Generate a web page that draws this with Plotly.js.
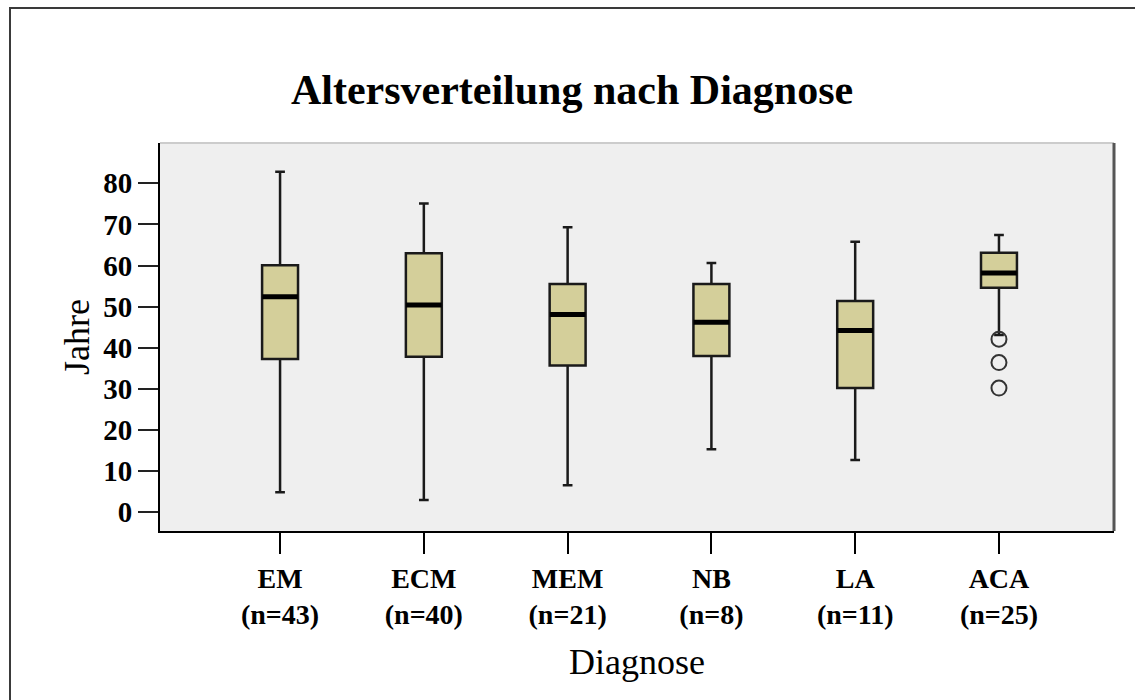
<!DOCTYPE html>
<html>
<head>
<meta charset="utf-8">
<script src="https://cdn.plot.ly/plotly-3.0.1.min.js"></script>
<style>
  html, body { margin: 0; padding: 0; background: #fff; }
  #wrap { position: relative; width: 1135px; height: 700px; overflow: hidden; }
  #chart { position: absolute; left: 0; top: 0; width: 1135px; height: 700px; }
  #frame { position: absolute; left: 9px; top: 7px; width: 1200px; height: 800px;
           border: 2px solid #3a3a3a; pointer-events: none; box-sizing: border-box; }
</style>
</head>
<body>
<div id="wrap">
  <div id="chart"></div>
  <div id="frame"></div>
</div>
<script>
// ---- data ----
const categories  = ['EM', 'ECM', 'MEM', 'NB', 'LA', 'ACA'];
const sampleSizes = [43, 40, 21, 8, 11, 25];
const lowerFence  = [4.9, 3.0, 6.6, 15.3, 12.7, 43.1];
const q1Values    = [37.3, 37.8, 35.7, 38.0, 30.2, 54.6];
const medianVals  = [52.4, 50.4, 48.1, 46.2, 44.2, 58.2];
const q3Values    = [60.1, 63.0, 55.5, 55.5, 51.4, 63.1];
const upperFence  = [82.8, 75.1, 69.3, 60.6, 65.8, 67.4];
const outlierCats = ['ACA', 'ACA', 'ACA'];
const outlierVals = [42.1, 36.4, 30.2];
const yTickVals   = [0, 10, 20, 30, 40, 50, 60, 70, 80];

const tickText = categories.map((c, i) => c + '<br>(n=' + sampleSizes[i] + ')');

const serif = 'Liberation Serif, Times New Roman, serif';

const traces = [
  {
    type: 'box',
    x: categories,
    q1: q1Values,
    median: medianVals,
    q3: q3Values,
    lowerfence: lowerFence,
    upperfence: upperFence,
    boxpoints: false,
    fillcolor: '#d4cf9a',
    line: { color: '#1a1a1a', width: 2.5 },
    whiskerwidth: 0.27,
    hoverinfo: 'skip',
    showlegend: false
  },
  {
    type: 'scatter',
    mode: 'markers',
    x: categories,
    y: medianVals,
    marker: { symbol: 'line-ew', size: 25.5, line: { color: '#000000', width: 5 } },
    hoverinfo: 'skip',
    showlegend: false
  },
  {
    type: 'scatter',
    mode: 'markers',
    x: outlierCats,
    y: outlierVals,
    marker: { symbol: 'circle-open', size: 15, color: '#333333', line: { color: '#333333', width: 2 } },
    hoverinfo: 'skip',
    showlegend: false
  }
];

const layout = {
  width: 1135,
  height: 700,
  margin: { l: 160, r: 21, t: 143, b: 169 },
  paper_bgcolor: 'rgba(0,0,0,0)',
  plot_bgcolor: '#efefef',
  boxmode: 'overlay',
  boxgap: 0.75,
  boxgroupgap: 0,
  showlegend: false,
  title: {
    text: 'Altersverteilung nach Diagnose',
    font: { family: serif, size: 42, color: '#000', weight: 'bold' },
    xref: 'container', x: 0.504, xanchor: 'center',
    yref: 'container', y: 0.872, yanchor: 'middle'
  },
  xaxis: {
    type: 'category',
    range: [-0.835, 5.8],
    tickmode: 'array',
    tickvals: categories,
    ticktext: tickText,
    ticks: 'outside',
    ticklen: 21,
    tickwidth: 2,
    tickcolor: '#000',
    showline: true,
    linecolor: '#000',
    linewidth: 2,
    showgrid: false,
    zeroline: false,
    tickfont: { family: serif, size: 28, color: '#000', weight: 'bold' },
    title: { text: 'Diagnose', font: { family: serif, size: 36, color: '#000' }, standoff: 20 },
    fixedrange: true
  },
  yaxis: {
    range: [-4.55, 89.8],
    tickmode: 'array',
    tickvals: yTickVals,
    ticks: 'outside',
    ticklen: 20,
    tickwidth: 2,
    tickcolor: '#222',
    showline: true,
    linecolor: '#000',
    linewidth: 2,
    showgrid: false,
    zeroline: false,
    tickfont: { family: serif, size: 29, color: '#000', weight: 'bold' },
    title: { text: 'Jahre', font: { family: serif, size: 36, color: '#000' }, standoff: 3 },
    fixedrange: true
  },
  shapes: [
    { type: 'line', xref: 'paper', yref: 'paper', x0: 0, x1: 1, y0: 1, y1: 1,
      line: { color: '#cccccc', width: 2 } },
    { type: 'line', xref: 'paper', yref: 'paper', x0: 1, x1: 1, y0: 0, y1: 1,
      line: { color: '#555555', width: 3 } }
  ]
};

Plotly.newPlot('chart', traces, layout, { displayModeBar: false, staticPlot: true });
</script>
</body>
</html>
